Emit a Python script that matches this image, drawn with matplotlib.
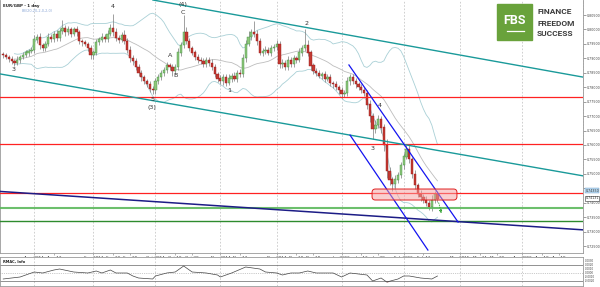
import numpy as np
import pandas as pd
import matplotlib
matplotlib.use('Agg')
import matplotlib.pyplot as plt
from matplotlib.patches import FancyBboxPatch, Rectangle

# daily closes EUR/GBP, 17 Jul 2014 .. 18 Feb 2015
closes = [
    # Jul
    0.7910, 0.7905, 0.7898, 0.7890, 0.7885, 0.7895, 0.7905, 0.7912, 0.7920, 0.7925, 0.7930,
    # Aug
    0.7965, 0.7975, 0.7945, 0.7935, 0.7950, 0.7975, 0.7968, 0.7985, 0.7970, 0.7995, 0.8005,
    0.7990, 0.8000, 0.7985, 0.8000, 0.7990, 0.7960, 0.7955, 0.7950, 0.7935, 0.7910,
    # Sep
    0.7920, 0.7955, 0.7965, 0.7975, 0.7968, 0.7985, 0.8005, 0.7990, 0.7970, 0.7965, 0.7980,
    0.7960, 0.7930, 0.7900, 0.7890, 0.7870, 0.7850, 0.7835, 0.7820, 0.7810, 0.7795, 0.7790,
    # Oct
    0.7820, 0.7835, 0.7850, 0.7860, 0.7875, 0.7870, 0.7855, 0.7870, 0.7920, 0.7945, 0.7990,
    0.7960, 0.7935, 0.7920, 0.7905, 0.7895, 0.7890, 0.7880, 0.7895, 0.7885, 0.7870, 0.7845, 0.7830,
    # Nov
    0.7820, 0.7835, 0.7815, 0.7830, 0.7840, 0.7830, 0.7850, 0.7845, 0.7900, 0.7950,
    0.7975, 0.7990, 0.7985, 0.7960, 0.7920, 0.7925, 0.7930, 0.7920, 0.7935, 0.7940,
    # Dec
    0.7950, 0.7880, 0.7885, 0.7870, 0.7895, 0.7880, 0.7900, 0.7895, 0.7920, 0.7935, 0.7945,
    0.7920, 0.7875, 0.7855, 0.7850, 0.7840, 0.7845, 0.7830, 0.7835, 0.7815, 0.7810, 0.7800, 0.7790,
    # Jan
    0.7775, 0.7780, 0.7820, 0.7835, 0.7820, 0.7810, 0.7800, 0.7790, 0.7780, 0.7740, 0.7700,
    0.7655, 0.7670, 0.7690, 0.7660, 0.7600, 0.7510, 0.7480, 0.7465, 0.7480, 0.7495, 0.7530,
    # Feb
    0.7560, 0.7585, 0.7550, 0.7500, 0.7460, 0.7430, 0.7420, 0.7410, 0.7400, 0.7385, 0.7410,
    0.7430, 0.7413,
]

# wick extents beyond the body, in pips
hi_pips = [
    8, 10, 6, 9, 7, 12, 8, 10, 9, 7, 10,
    15, 9, 12, 8, 10, 14, 9, 11, 12, 10, 28, 9, 12, 8, 10, 12, 9, 7, 10, 8, 12,
    10, 13, 9, 11, 8, 12, 14, 50, 15, 10, 12, 18, 9, 14, 10, 12, 9, 11, 8, 10, 12, 9,
    12, 10, 9, 11, 14, 8, 10, 12, 15, 10, 60, 18, 12, 9, 10, 11, 8, 12, 10, 9, 11, 10, 8,
    12, 9, 10, 14, 8, 11, 10, 12, 15, 13, 18, 10, 40, 12, 9, 11, 14, 10, 12, 9,
    15, 10, 12, 9, 14, 10, 11, 8, 16, 12, 55, 20, 10, 9, 11, 10, 8, 12, 9, 10, 8, 11, 9,
    10, 12, 14, 10, 9, 11, 8, 10, 9, 12, 15, 10, 18, 12, 10, 14, 20, 12, 10, 15, 12, 10,
    12, 15, 18, 10, 12, 9, 14, 10, 12, 9, 15, 10, 12,
]
lo_pips = [
    10, 8, 12, 9, 12, 8, 10, 7, 9, 11, 8,
    10, 12, 14, 10, 9, 8, 12, 10, 9, 11, 10, 12, 8, 10, 9, 11, 10, 12, 9, 10, 14,
    12, 9, 10, 8, 11, 10, 9, 12, 10, 11, 9, 12, 10, 14, 12, 10, 11, 12, 9, 10, 12, 15,
    14, 10, 9, 11, 10, 12, 15, 10, 9, 12, 10, 11, 10, 9, 12, 10, 11, 9, 10, 12, 10, 11, 12,
    10, 12, 10, 9, 11, 10, 12, 9, 10, 11, 9, 12, 10, 14, 10, 11, 9, 10, 12, 10,
    10, 12, 14, 10, 11, 9, 10, 12, 9, 11, 10, 12, 14, 10, 11, 9, 10, 12, 10, 11, 12, 10, 12,
    12, 10, 9, 11, 10, 12, 10, 11, 12, 14, 20, 35, 15, 12, 18, 20, 25, 20, 25, 14, 12, 10,
    12, 10, 14, 15, 12, 10, 14, 12, 10, 10, 15, 12, 10,
]

# drawn levels and trend lines (candle index, price)
red_levels = [0.7767, 0.7603, 0.7434]
green_levels = [0.7383, 0.7337]
teal_upper = [(53.1, 0.8102), (205.6, 0.7835)]
teal_lower = [(-1.13, 0.7846), (205.6, 0.7493)]
navy_line = [(-1.13, 0.7439), (205.6, 0.7306)]
blue_upper = [(122.6, 0.7877), (161.3, 0.7333)]
blue_lower = [(123.0, 0.7634), (150.6, 0.7236)]

wave_labels = [("3", 3.8, 0.7860), ("4", 38.9, 0.8081), ("5", 52.8, 0.7756),
               ("(3)", 52.8, 0.7728), ("A", 59.2, 0.7911), ("B", 61.3, 0.7839),
               ("(4)", 63.8, 0.8087), ("C", 63.8, 0.8058), ("1", 80.1, 0.7787),
               ("2", 107.7, 0.8022), ("3", 131.1, 0.7586), ("4", 133.6, 0.7735)]

tick_dates = ["2014-08-01", "2014-08-12", "2014-09-01", "2014-09-10", "2014-09-18",
              "2014-10-01", "2014-10-10", "2014-10-20", "2014-11-03", "2014-11-12",
              "2014-12-01", "2014-12-10", "2014-12-18", "2015-01-01", "2015-01-12",
              "2015-01-20", "2015-02-02", "2015-02-11", "2015-03-02", "2015-03-11",
              "2015-03-19", "2015-04-01", "2015-04-10", "2015-04-20"]
tick_labels = ["Aug 2014", "Aug 12", "Sep 2014", "Sep 10", "Sep 18", "Oct 2014", "Oct 10",
               "Oct 20", "Nov 2014", "Nov 12", "Dec 2014", "Dec 10", "Dec 18", "Jan 2015",
               "Jan 12", "Jan 20", "Feb 2015", "Feb 11", "Mar 2015", "Mar 11", "Mar 19",
               "Apr 2015", "Apr 10", "Apr 19"]
month_starts = ["2014-08-01", "2014-09-01", "2014-10-01", "2014-11-03", "2014-12-01",
                "2015-01-01", "2015-02-02", "2015-03-02", "2015-04-01"]

# lower indicator panel (candle index, value)
osc_idx = [0, 6, 11, 14, 18, 20, 25, 30, 33, 35, 38, 40, 44, 46, 48, 53, 54, 58, 61, 64,
           67, 72, 76, 77, 81, 86, 91, 93, 97, 99, 102, 105, 108, 111, 117, 120, 123, 126,
           129, 131, 134, 136, 140, 142, 144, 148, 152, 154]
osc_val = [7, 9, 14, 13, 16, 17, 14, 13, 15, 13, 16, 13, 13, 10, 8, 7, 10, 13, 14, 20,
           14, 13, 11, 9, 13, 19, 17, 14, 13, 11, 13, 13, 15, 13, 13, 9, 13, 12,
           11, 5, 8, 4, 7, 10, 10, 8, 7, 10]

days = pd.bdate_range("2014-07-17", "2015-05-29")
pos = lambda ds: days.get_indexer(pd.to_datetime(ds), method="bfill")

c = np.array(closes)
o = np.concatenate([[c[0] + 0.0005], c[:-1]])
hi = np.maximum(o, c) + np.array(hi_pips) * 1e-4
lo = np.minimum(o, c) - np.array(lo_pips) * 1e-4
idx = np.arange(len(c))

cs = pd.Series(c)
mid = cs.rolling(20, min_periods=5).mean()
sd = cs.rolling(20, min_periods=5).std(ddof=0)

fig = plt.figure(figsize=(6, 2.87), dpi=100)
ax = fig.add_axes([0, 34 / 287, 583 / 600, 253 / 287])
ax2 = fig.add_axes([0, 1 / 287, 583 / 600, 29 / 287])

ax.set_xlim(-1.13, 205.6)
ax.set_ylim(0.72258, 0.8102)

for d in pos(month_starts):
    ax.axvline(d, color='#c8c8c8', lw=0.6, ls=(0, (2, 2)), zorder=0)
    ax2.axvline(d, color='#c8c8c8', lw=0.6, ls=(0, (2, 2)), zorder=0)

# bollinger bands
ax.plot(idx, mid + 2 * sd, color='#a9d0d6', lw=0.6, zorder=1)
ax.plot(idx, mid - 2 * sd, color='#a9d0d6', lw=0.6, zorder=1)
ax.plot(idx, mid, color='#bdbdbd', lw=0.6, zorder=1)

# candles
up = c >= o
ax.vlines(idx, lo, hi, color='#7a7a7a', lw=0.5, zorder=2)
ax.bar(idx[up], (c - o)[up] + 0.00005, bottom=o[up], width=0.8, color='#8fc77c',
       edgecolor='#3f8f3f', lw=0.3, zorder=3)
ax.bar(idx[~up], (o - c)[~up] + 0.00005, bottom=c[~up], width=0.8, color='#c23a32',
       edgecolor='#9a1a1a', lw=0.3, zorder=3)

# drawings
for p in red_levels:
    ax.axhline(p, color='#ff2222', lw=0.9, zorder=4)
ax.axhline(green_levels[0], color='#5cb85c', lw=1.5, alpha=0.9, zorder=4)
ax.axhline(green_levels[1], color='#2e8b2e', lw=1.0, zorder=4)
ax.axline(*teal_upper, color='#1a9a9a', lw=1.0, zorder=4)
ax.axline(*teal_lower, color='#1a9a9a', lw=1.0, zorder=4)
ax.axline(*navy_line, color='#1c1c86', lw=1.1, zorder=4)
for seg in (blue_upper, blue_lower):
    ax.plot([seg[0][0], seg[1][0]], [seg[0][1], seg[1][1]], color='#1414f0', lw=0.9, zorder=4)

ax.add_patch(FancyBboxPatch((130.8, 0.74093), 30.1, 0.00381,
                            boxstyle="round,pad=0,rounding_size=1.2", mutation_aspect=0.000977,
                            facecolor='#f5a0a0', alpha=0.5, lw=0, zorder=5))
ax.add_patch(FancyBboxPatch((130.8, 0.74093), 30.1, 0.00381,
                            boxstyle="round,pad=0,rounding_size=1.2", mutation_aspect=0.000977,
                            facecolor='none', edgecolor='#e02020', lw=0.7, zorder=5))
ax.annotate('', xy=(155.6, 0.7354), xytext=(154.2, 0.7409),
            arrowprops=dict(arrowstyle='-|>', color='#2ea02e', lw=0.6, ls=':',
                            mutation_scale=4), zorder=6)

for t, x, y in wave_labels:
    ax.text(x, y, t, fontsize=4.6, color='#333333', ha='center', va='center', zorder=6)

ax.text(0.005, 0.985, "EUR/GBP - 1 day", transform=ax.transAxes, fontsize=2.9,
        color='#222222', va='top', fontweight='bold')
ax.text(0.037, 0.965, "BB(20,20,2,0,2,0)", transform=ax.transAxes, fontsize=2.5,
        color='#8aa6d6', va='top')

# axes styling; the 0.745 label sits under the price tag in the original
ax.yaxis.tick_right()
yt = np.arange(0.725, 0.8051, 0.005)
ax.set_yticks(yt, ["" if abs(v - 0.745) < 1e-6 else "%.5f" % v for v in yt])
ax.set_yticks(np.arange(0.723, 0.810, 0.001), minor=True)
ax.tick_params(axis='y', which='major', labelsize=2.3, length=1.8, width=0.4, pad=0.6,
               colors='#555555', labelcolor='#444444')
ax.tick_params(axis='y', which='minor', length=1, width=0.3, colors='#777777')
ax.set_xticks(pos(tick_dates), tick_labels)
ax.tick_params(axis='x', labelsize=3.0, length=1.5, width=0.4, pad=0.8,
               colors='#777777', labelcolor='#333333')
ax.spines['top'].set_visible(False)
for s in ('left', 'right', 'bottom'):
    ax.spines[s].set_color('#999999')
    ax.spines[s].set_linewidth(0.6)

# current price tags on the axis
ax.text(1.004, 0.7442, "0.74350", transform=ax.get_yaxis_transform(), fontsize=2.3,
        color='#333333', va='center', clip_on=False,
        bbox=dict(boxstyle='square,pad=0.12', fc='#b8d8f0', ec='#6a9ac8', lw=0.3))
ax.text(1.004, 0.74155, "0.74131", transform=ax.get_yaxis_transform(),
        fontsize=2.3, color='#333333', va='center', clip_on=False,
        bbox=dict(boxstyle='square,pad=0.12', fc='white', ec='#333333', lw=0.4))

# FBS logo
fig.patches.append(Rectangle((497 / 600, 1 - 40 / 287), 35 / 600, 36 / 287,
                             transform=fig.transFigure, color='#69a23b', zorder=10))
fig.text(514.5 / 600, 1 - 21 / 287, "FBS", fontsize=9, color='white', fontweight='bold',
         family='Roboto', ha='center', va='center', zorder=11)
fig.lines.append(plt.Line2D([507 / 600, 524 / 600], [1 - 31 / 287, 1 - 31 / 287],
                            transform=fig.transFigure, color='white', lw=0.9, zorder=11))
for k, w in enumerate(["FINANCE", "FREEDOM", "SUCCESS"]):
    fig.text(537 / 600, 1 - (12 + 11 * k) / 287, w, fontsize=6, color='#3d3d3d',
             fontweight='bold', family='Roboto', va='center', zorder=11)

# lower panel
ax2.set_xlim(-1.13, 205.6)
ax2.set_ylim(0, 29)
ax2.axhline(21, color='#666666', lw=0.5)
ax2.axhline(13.5, color='#999999', lw=0.5, ls=':')
ax2.axhline(5, color='#666666', lw=0.5)
ax2.plot(osc_idx, osc_val, color='#444444', lw=0.5)
ov = np.array(osc_val, dtype=float)
ax2.fill_between(osc_idx, ov, 5, where=ov < 5, interpolate=True, color='#a05050', lw=0)
ax2.text(0.005, 0.9, "RMAC, Info", transform=ax2.transAxes, fontsize=2.6, va='top',
         color='#222222', fontweight='bold')
ax2.set_xticks([])
ax2.yaxis.tick_right()
ax2.set_yticks([5, 9, 13.5, 17, 21, 25], ["-0.0020", "-0.0010", "0.0000", "0.0010",
                                           "0.0020", "0.0030"])
ax2.tick_params(axis='y', labelsize=2.0, length=1, width=0.3, pad=0.6, colors='#777777',
                labelcolor='#444444')
for s in ax2.spines.values():
    s.set_color('#999999')
    s.set_linewidth(0.6)

fig.savefig('out.png', dpi=100)
